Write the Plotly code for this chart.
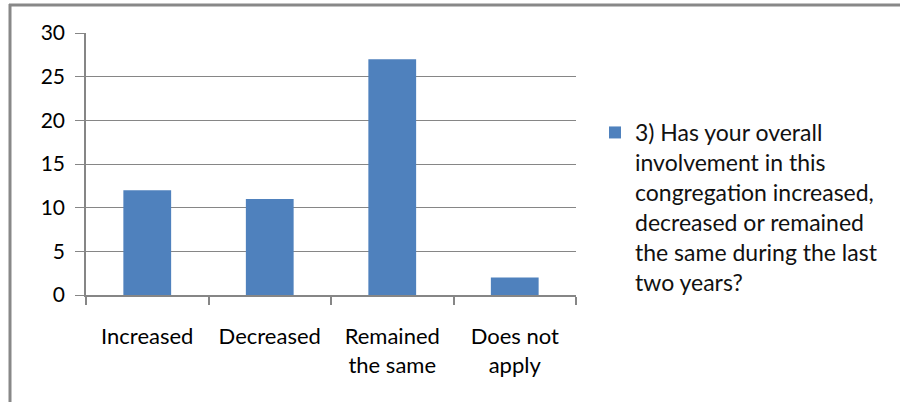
import plotly.graph_objects as go

categories = ["Increased", "Decreased", "Remained<br>the same", "Does not<br>apply"]
values = [12, 11, 27, 2]
series_name = ("3) Has your overall<br>involvement in this<br>congregation increased,<br>"
               "decreased or remained<br>the same during the last<br>two years?")
y_ticks = [0, 5, 10, 15, 20, 25, 30]

W, H = 901, 402
L, R, T, B = 86, 325, 33, 107
pw, ph = W - L - R, H - T - B

def px_x(p):
    return (p - L) / pw

def px_y(p):
    return (H - B - p) / ph

FONT = "Lato"
GRAY = "#868686"

fig = go.Figure(go.Bar(
    x=categories, y=values, name=series_name,
    marker=dict(color="#4F81BD", line=dict(width=0)),
    showlegend=True,
))

fig.update_layout(
    width=W, height=H,
    margin=dict(l=L, r=R, t=T, b=B),
    paper_bgcolor="white", plot_bgcolor="white",
    bargap=0.61,
    font=dict(family=FONT, size=20, color="black"),
    legend=dict(
        x=px_x(595), xanchor="left",
        y=px_y(111), yanchor="top",
        valign="top",
        font=dict(family=FONT, size=23, color="#111"),
        bgcolor="rgba(0,0,0,0)", borderwidth=0,
        itemwidth=30,
    ),
    xaxis=dict(
        showline=True, linecolor=GRAY, linewidth=1.5,
        ticks="outside", tickson="boundaries", ticklen=8, tickcolor=GRAY, tickwidth=1.5,
        showgrid=False, ticklabelstandoff=21,
        tickfont=dict(family=FONT, size=22, color="black"),
    ),
    yaxis=dict(
        range=[0, 30], tickvals=y_ticks,
        showline=True, linecolor=GRAY, linewidth=1.5,
        ticks="outside", ticklen=9, tickcolor=GRAY, tickwidth=1,
        showgrid=True, gridcolor=GRAY, gridwidth=1,
        zeroline=False, ticklabelstandoff=6,
        tickfont=dict(family=FONT, size=21, color="black"),
    ),
    shapes=[
        dict(type="line", xref="paper", yref="paper",
             x0=px_x(9), x1=px_x(900), y0=px_y(5), y1=px_y(5),
             line=dict(color="#888888", width=3)),
        dict(type="line", xref="paper", yref="paper",
             x0=px_x(10), x1=px_x(10), y0=px_y(4), y1=px_y(402),
             line=dict(color="#888888", width=3)),
    ],
)

fig.write_html(
    "out.html",
    config={"displayModeBar": False},
    post_script="document.body.style.margin='0';document.body.style.overflow='hidden';",
)
